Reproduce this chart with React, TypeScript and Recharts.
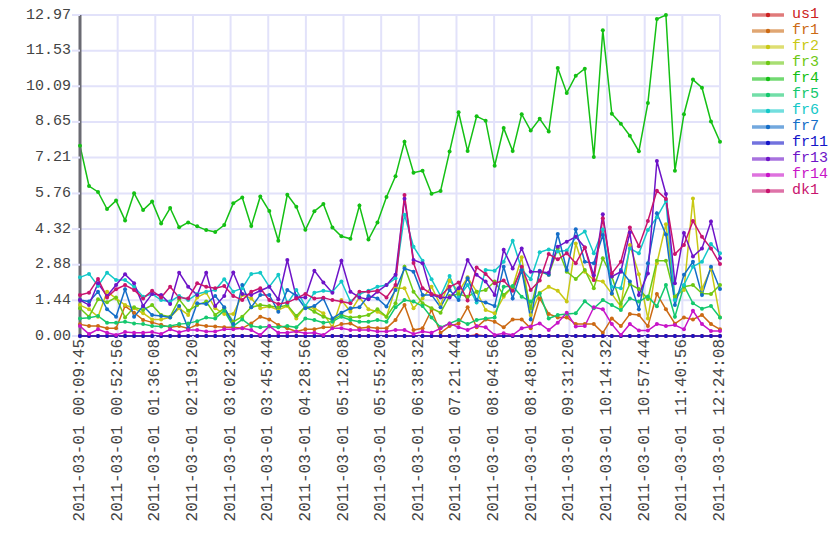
import { LineChart, Line, XAxis, YAxis, CartesianGrid, Legend } from "recharts";

const seriesNames = ["us1", "fr1", "fr2", "fr3", "fr4", "fr5", "fr6", "fr7", "fr11", "fr13", "fr14", "dk1"];

const seriesColors = [
    "#cc2222", "#cc6a14", "#c8c814", "#6ec814", "#14c014", "#14c86e",
    "#14c8c8", "#146ec8", "#1414c8", "#6e14c8", "#c814c8", "#c8146e",
];

const xTickLabels = [
    "2011-03-01 00:09:45", "2011-03-01 00:52:56", "2011-03-01 01:36:08", "2011-03-01 02:19:20",
    "2011-03-01 03:02:32", "2011-03-01 03:45:44", "2011-03-01 04:28:56", "2011-03-01 05:12:08",
    "2011-03-01 05:55:20", "2011-03-01 06:38:32", "2011-03-01 07:21:44", "2011-03-01 08:04:56",
    "2011-03-01 08:48:08", "2011-03-01 09:31:20", "2011-03-01 10:14:32", "2011-03-01 10:57:44",
    "2011-03-01 11:40:56", "2011-03-01 12:24:08",
];

const yTickLabels = ["0.00", "1.44", "2.88", "4.32", "5.76", "7.21", "8.65", "10.09", "11.53", "12.97"];

const us1 = [
    0, 0, 0, 0, 0, 0, 0, 0, 0, 0, 0, 0,
    0, 0, 0, 0, 0, 0, 0, 0, 0, 0, 0, 0,
    0, 0, 0, 0, 0, 0, 0, 0, 0, 0, 0, 0,
    0, 0, 0, 0, 0, 0, 0, 0, 0.04, 0, 0, 0,
    0, 0, 0, 0, 0, 0, 0, 0, 0, 0, 0, 0,
    0, 0, 0, 0, 0, 0, 0, 0, 0, 0, 0, 0,
];
const fr1 = [
    0.47, 0.40, 0.40, 0.31, 0.31, 1.21, 0.94, 0.65, 0.55, 0.45, 0.35, 0.40,
    0.30, 0.45, 0.40, 0.38, 0.35, 0.35, 0.31, 0.51, 0.78, 0.67, 0.44, 0.31,
    0.18, 0.27, 0.27, 0.35, 0.35, 0.48, 0.51, 0.31, 0.35, 0.31, 0.31, 0.65,
    1.25, 0.24, 0.31, 1.05, 0.13, 0.40, 0.51, 1.16, 0.35, 0.67, 0.58, 0.35,
    0.67, 0.67, 0.31, 1.52, 0.89, 0.75, 0.75, 0.48, 0.48, 0.48, 0.13, 0.71,
    0.40, 0.89, 0.85, 0.40, 1.70, 1.08, 0.50, 0.75, 0.67, 0.85, 0.48, 0.27,
];
const fr2 = [
    1.25, 1.08, 0.78, 1.79, 1.52, 1.25, 1.12, 0.92, 0.67, 0.67, 0.75, 1.12,
    0.85, 1.56, 1.75, 1.12, 0.89, 0.89, 1.66, 1.52, 1.12, 1.19, 1.05, 1.21,
    0.71, 1.19, 1.12, 0.92, 0.35, 1.45, 0.98, 1.56, 1.08, 0.98, 0.78, 1.93,
    1.93, 1.12, 1.52, 1.99, 1.25, 2.24, 1.79, 2.37, 1.79, 1.05, 0.92, 1.59,
    1.99, 3.18, 0.85, 1.75, 1.99, 1.83, 1.39, 3.74, 2.60, 2.26, 2.20, 1.70,
    1.19, 3.68, 2.50, 0.71, 2.94, 4.52, 1.59, 1.86, 5.56, 1.90, 2.73, 0.75,
];
const fr3 = [
    1.12, 0.78, 1.48, 1.36, 1.56, 0.75, 1.16, 1.05, 1.25, 0.85, 0.78, 1.48,
    1.02, 1.25, 1.39, 0.85, 1.12, 0.58, 0.78, 1.16, 1.25, 1.21, 1.16, 1.25,
    0.81, 1.19, 0.98, 0.78, 0.65, 0.85, 0.75, 0.78, 0.85, 1.08, 0.78, 1.32,
    2.80, 1.79, 1.32, 1.12, 0.94, 1.62, 1.70, 1.59, 1.79, 1.86, 2.20, 1.66,
    1.99, 2.67, 1.12, 2.60, 2.47, 3.54, 2.60, 2.30, 2.67, 1.93, 3.14, 2.40,
    1.30, 2.10, 1.90, 1.50, 3.04, 3.04, 1.59, 1.99, 2.06, 1.72, 1.70, 2.06,
];
const fr4 = [
    7.69, 6.06, 5.82, 5.13, 5.47, 4.67, 5.77, 5.09, 5.43, 4.55, 5.17, 4.39,
    4.59, 4.43, 4.28, 4.20, 4.48, 5.36, 5.60, 4.44, 5.64, 5.05, 3.85, 5.71,
    5.22, 4.29, 5.04, 5.33, 4.38, 4.03, 3.93, 5.27, 3.90, 4.59, 5.62, 6.45,
    7.85, 6.60, 6.68, 5.75, 5.86, 7.45, 9.04, 7.47, 8.88, 8.70, 6.88, 8.40,
    7.47, 8.96, 8.30, 8.78, 8.26, 10.83, 9.82, 10.52, 10.80, 7.23, 12.35, 8.98,
    8.58, 8.09, 7.46, 9.41, 12.81, 12.97, 6.68, 8.96, 10.36, 10.03, 8.67, 7.85,
];
const fr5 = [
    0.71, 0.74, 0.81, 0.54, 0.54, 0.58, 0.51, 0.48, 0.40, 0.38, 0.40, 0.48,
    0.51, 0.60, 0.75, 0.71, 1.02, 0.40, 0.67, 0.40, 0.35, 0.38, 0.35, 0.40,
    0.35, 0.71, 0.65, 0.54, 0.58, 0.78, 0.65, 0.58, 0.58, 0.65, 0.58, 1.16,
    1.45, 1.39, 1.21, 0.75, 0.35, 0.51, 0.65, 0.48, 0.65, 0.71, 0.75, 1.99,
    2.02, 1.59, 1.39, 1.72, 0.71, 0.85, 0.89, 0.92, 1.40, 1.12, 1.45, 1.25,
    1.05, 1.52, 1.39, 1.60, 1.20, 2.06, 0.78, 2.03, 1.32, 1.10, 1.21, 0.75,
];
const fr6 = [
    2.37, 2.51, 2.02, 2.56, 2.26, 2.26, 1.99, 1.59, 1.70, 1.45, 1.39, 1.62,
    1.45, 1.70, 1.79, 1.86, 2.29, 1.79, 1.93, 2.51, 2.56, 1.99, 2.47, 1.32,
    1.86, 1.21, 1.75, 1.83, 1.79, 2.20, 1.39, 1.70, 1.83, 1.99, 2.06, 2.33,
    4.90, 3.61, 3.04, 2.29, 1.62, 2.42, 1.56, 2.06, 1.35, 2.67, 2.64, 3.00,
    3.85, 2.69, 2.29, 3.38, 3.50, 3.41, 3.45, 3.99, 4.22, 3.34, 4.30, 1.99,
    1.93, 3.54, 3.34, 4.28, 4.80, 5.45, 1.45, 2.06, 2.80, 3.00, 3.72, 3.34,
];
const fr7 = [
    1.45, 1.39, 1.79, 1.08, 0.78, 1.89, 0.78, 1.21, 0.85, 0.81, 0.75, 1.21,
    0.31, 1.32, 1.29, 1.62, 1.16, 0.48, 2.06, 1.16, 1.66, 1.66, 0.98, 1.86,
    1.62, 1.12, 1.21, 1.52, 0.71, 0.94, 1.12, 1.16, 1.62, 1.52, 1.19, 1.86,
    2.73, 2.60, 1.66, 1.66, 1.16, 1.86, 1.45, 2.33, 1.45, 1.35, 1.21, 2.80,
    1.52, 2.67, 0.67, 2.64, 2.47, 4.12, 2.67, 4.31, 3.00, 2.94, 4.08, 1.72,
    2.67, 2.20, 1.08, 2.94, 4.96, 4.10, 1.25, 2.47, 3.00, 1.66, 2.80, 1.90,
];
const fr11 = [
    0, 0, 0, 0, 0, 0, 0, 0, 0, 0, 0, 0,
    0, 0, 0, 0, 0, 0, 0, 0, 0, 0, 0, 0,
    0, 0, 0, 0, 0, 0, 0, 0, 0, 0, 0, 0,
    0, 0, 0, 0, 0, 0, 0, 0, 0, 0, 0, 0,
    0, 0, 0, 0, 0, 0, 0, 0, 0, 0, 0, 0,
    0, 0, 0, 0, 0, 0, 0, 0, 0, 0, 0, 0,
];
const fr13 = [
    1.45, 1.25, 2.13, 1.62, 2.06, 2.49, 2.13, 1.21, 1.70, 1.66, 1.29, 2.56,
    1.99, 1.66, 2.56, 1.21, 1.62, 2.57, 1.70, 1.66, 1.83, 1.99, 1.48, 3.07,
    1.56, 1.56, 2.64, 2.16, 1.75, 3.04, 1.79, 1.56, 1.48, 1.79, 2.06, 2.47,
    5.55, 3.07, 2.94, 1.66, 1.56, 1.56, 1.93, 3.07, 2.47, 2.20, 1.66, 3.48,
    2.73, 3.54, 2.60, 2.60, 2.56, 3.61, 3.81, 4.01, 3.58, 2.45, 4.92, 2.40,
    2.60, 4.18, 1.66, 2.53, 7.07, 5.74, 2.13, 4.16, 3.21, 3.54, 4.63, 3.14,
];
const fr14 = [
    0.40, 0.08, 0.27, 0.13, 0.04, 0.16, 0.13, 0.13, 0.16, 0.08, 0.27, 0.15,
    0.24, 0.24, 0.18, 0.18, 0.27, 0.27, 0.31, 0.24, 0.04, 0.40, 0.13, 0.13,
    0.18, 0.11, 0.13, 0.04, 0.31, 0.31, 0.24, 0.24, 0.24, 0.18, 0.18, 0.24,
    0.24, 0.08, 0.18, 0.13, 0.31, 0.51, 0.35, 0.24, 0.40, 0.35, 0.04, 0.11,
    0.04, 0.31, 0.38, 0.51, 0.24, 0.54, 0.94, 0.38, 0.40, 1.16, 1.08, 0.48,
    0.04, 0.48, 0.22, 0.22, 0.48, 0.40, 0.44, 0.27, 1.02, 0.48, 0.20, 0.20,
];
const dk1 = [
    1.66, 1.75, 2.30, 1.56, 1.89, 2.06, 1.86, 1.52, 1.83, 1.56, 1.99, 1.55,
    1.52, 2.13, 1.99, 1.93, 2.02, 1.62, 1.45, 1.79, 1.93, 1.45, 1.29, 1.35,
    1.52, 1.70, 1.52, 1.55, 1.45, 1.39, 1.32, 1.79, 1.79, 1.83, 1.56, 2.06,
    5.70, 2.95, 1.93, 1.70, 1.62, 1.99, 2.16, 1.43, 2.77, 2.51, 2.13, 2.24,
    1.83, 2.80, 1.86, 2.24, 3.31, 3.10, 3.34, 2.94, 3.58, 2.26, 4.76, 2.53,
    3.00, 4.38, 3.63, 4.65, 5.87, 5.54, 3.31, 3.68, 4.65, 4.01, 3.54, 2.91,
];

const seriesValues = [us1, fr1, fr2, fr3, fr4, fr5, fr6, fr7, fr11, fr13, fr14, dk1];

const data = fr4.map((_, i) => {
    const row: Record<string, number> = { i };
    seriesNames.forEach((name, s) => {
        row[name] = seriesValues[s][i];
    });
    return row;
});

const lastIndex = fr4.length - 1;
const xTicks = xTickLabels.map((_, k) => (k * lastIndex) / (xTickLabels.length - 1));
const yTicks = yTickLabels.map((v) => parseFloat(v));

const MONO = "'Liberation Mono', 'DejaVu Sans Mono', monospace";
const GRID = "#e2e2fa";

function XTick(props: any) {
    const { x, y, index } = props;
    const ty = y - 1;
    return (
        <text
            x={x}
            y={ty}
            transform={`rotate(-90 ${x} ${ty})`}
            textAnchor="end"
            dominantBaseline="central"
            fill="#444"
            fontFamily={MONO}
            fontSize={16}
        >
            {xTickLabels[index]}
        </text>
    );
}

function YTick(props: any) {
    const { x, y, index } = props;
    return (
        <text x={x} y={y} textAnchor="end" dominantBaseline="central" fill="#444" fontFamily={MONO} fontSize={15}>
            {yTickLabels[index]}
        </text>
    );
}

function renderLegend() {
    return (
        <div style={{ display: "flex", flexDirection: "column" }}>
            {seriesNames.map((name, s) => (
                <div key={name} style={{ display: "flex", alignItems: "center", height: 16 }}>
                    <svg width={48} height={16} style={{ display: "block" }}>
                        <line x1={8} x2={40} y1={8} y2={8} stroke={seriesColors[s]} strokeOpacity={0.6} strokeWidth={3.5} />
                        <circle cx={24} cy={8} r={2.2} fill={seriesColors[s]} />
                    </svg>
                    <span style={{ fontFamily: MONO, fontSize: 15, lineHeight: "16px", color: seriesColors[s] }}>{name}</span>
                </div>
            ))}
        </div>
    );
}

export default function App() {
    return (
        <div style={{ position: "absolute", left: 0, top: 0, width: 840, height: 560, background: "#fff" }}>
            <LineChart width={840} height={560} data={data} margin={{ top: 15, right: 120, bottom: 0, left: 0 }}>
                <CartesianGrid stroke={GRID} strokeWidth={2} />
                <XAxis
                    dataKey="i"
                    type="number"
                    domain={[0, lastIndex]}
                    ticks={xTicks}
                    interval={0}
                    height={224}
                    axisLine={false}
                    tickLine={{ stroke: GRID, strokeWidth: 2 }}
                    tickSize={4}
                    tickMargin={0}
                    tick={<XTick />}
                />
                <YAxis
                    type="number"
                    domain={[0, 12.97]}
                    ticks={yTicks}
                    interval={0}
                    width={80}
                    axisLine={{ stroke: "#6a6a72", strokeWidth: 3 }}
                    tickLine={{ stroke: GRID, strokeWidth: 2 }}
                    tickSize={8}
                    tickMargin={1}
                    tick={<YTick />}
                />
                <Legend
                    layout="horizontal"
                    verticalAlign="middle"
                    align="center"
                    wrapperStyle={{ left: 744, top: 7, width: 96, height: 200 }}
                    content={renderLegend}
                />
                {seriesNames.map((name, s) => (
                    <Line
                        key={name}
                        dataKey={name}
                        type="linear"
                        stroke={seriesColors[s]}
                        strokeWidth={1.5}
                        dot={{ r: 2, fill: seriesColors[s], stroke: "none" }}
                        activeDot={false}
                        isAnimationActive={false}
                    />
                ))}
            </LineChart>
        </div>
    );
}
